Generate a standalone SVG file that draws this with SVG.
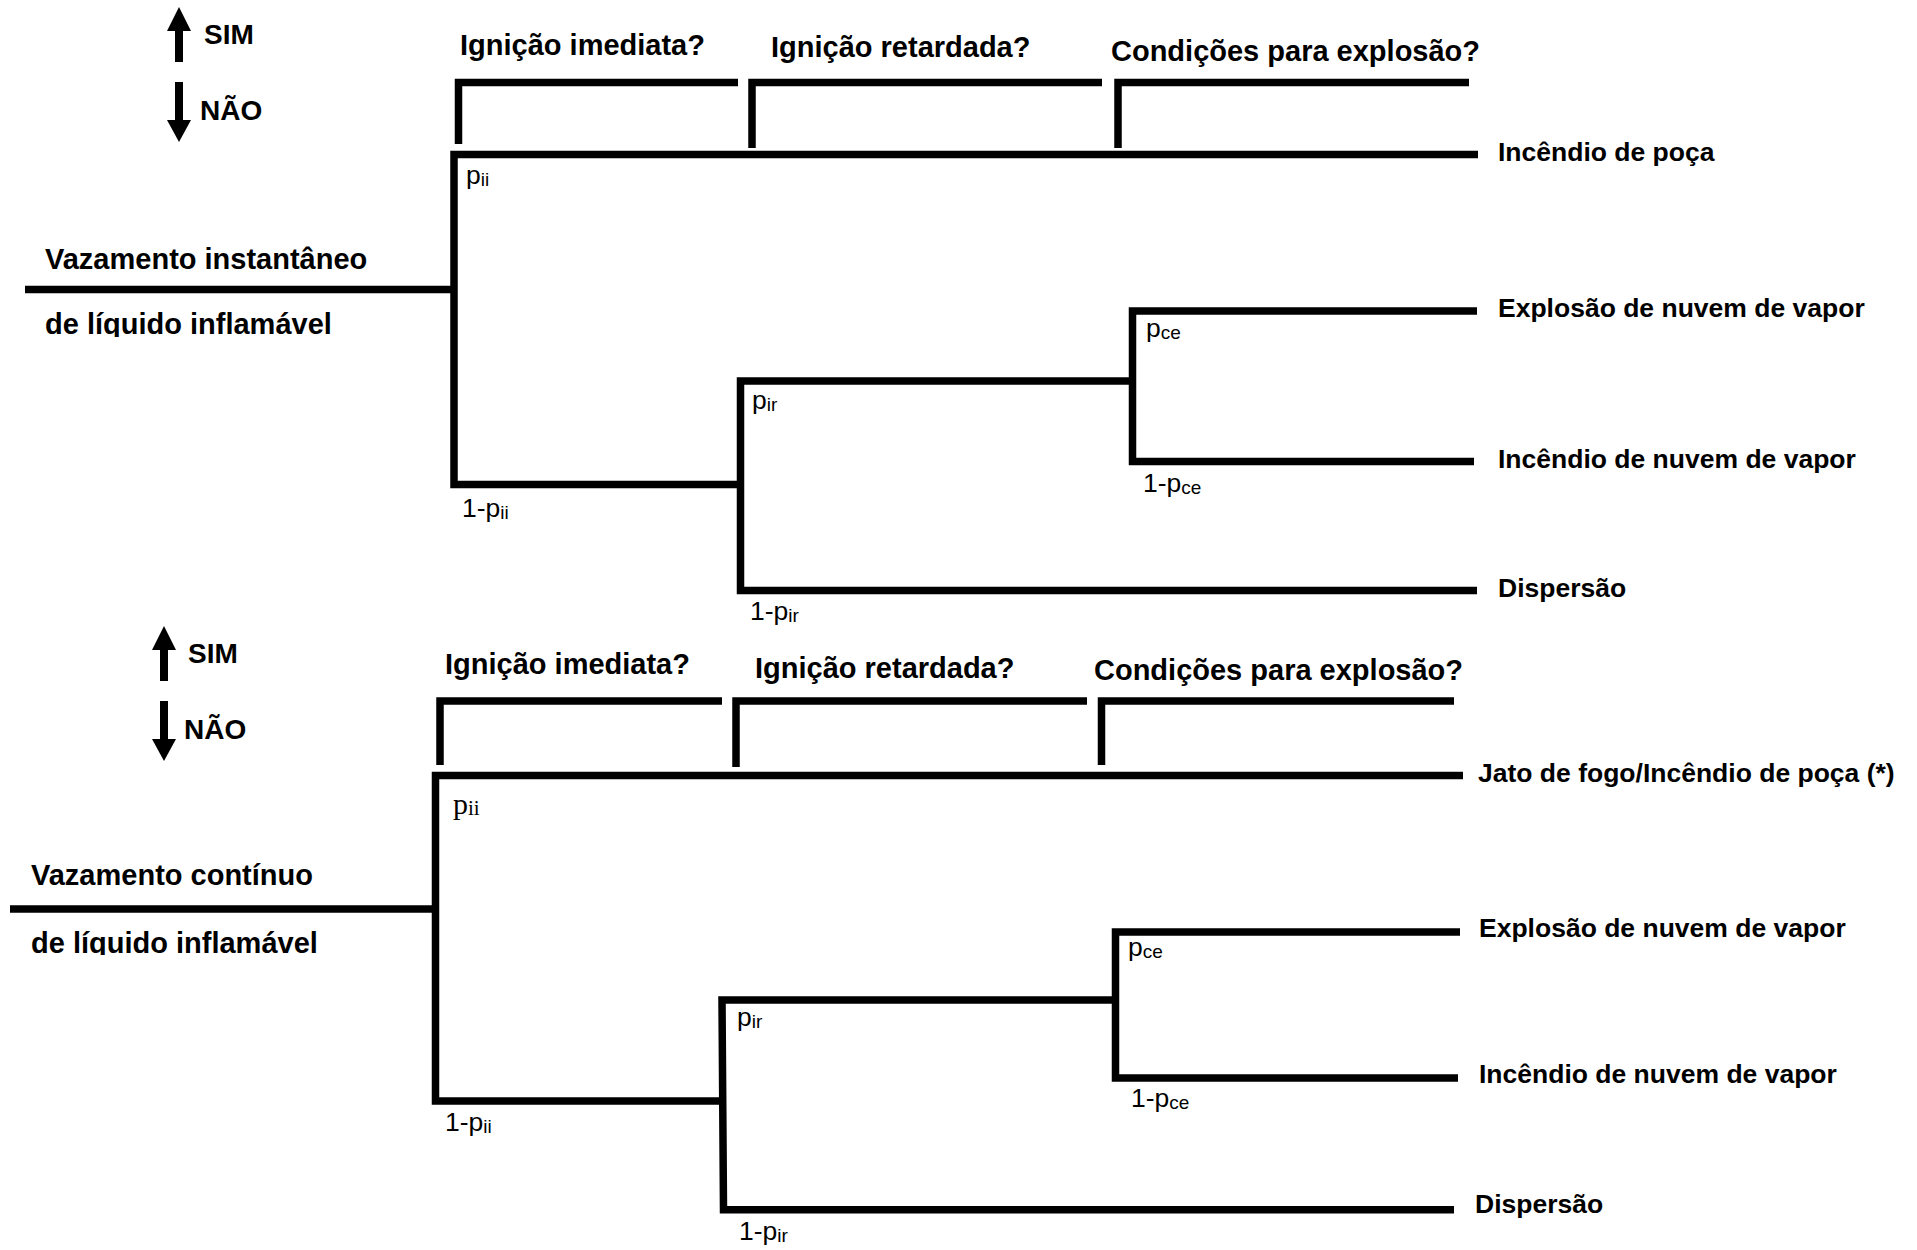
<svg xmlns="http://www.w3.org/2000/svg" xmlns:xlink="http://www.w3.org/1999/xlink" width="1917" height="1250" viewBox="0 0 1917 1250">
<style>
.ln{fill:none;stroke:#000;stroke-width:7.5;stroke-linejoin:miter;stroke-linecap:butt}
.h{font-family:"Liberation Sans",Arial,sans-serif;font-weight:bold;font-size:29px;fill:#000}
.yn{font-family:"Liberation Sans",Arial,sans-serif;font-weight:bold;font-size:28px;fill:#000}
.out{font-family:"Liberation Sans",Arial,sans-serif;font-weight:bold;font-size:26.5px;fill:#000}
.p{font-family:"Liberation Sans",Arial,sans-serif;font-size:26.5px;fill:#000}
.ps{font-family:"Liberation Serif","Times New Roman",serif;font-size:30px;fill:#000}
.sub{font-size:19px}
.subs{font-size:21px}
</style>
<defs>
<g id="arrUp"><rect x="-4" y="23" width="8" height="32"/><polygon points="-12,24 12,24 0,0"/></g>
<g id="arrDown"><rect x="-4" y="0" width="8" height="39"/><polygon points="-12,38 12,38 0,60"/></g>
<clipPath id="clipTop"><rect x="0" y="300" width="440" height="37"/></clipPath>
<clipPath id="clipBot"><rect x="0" y="918" width="430" height="37"/></clipPath>
</defs>
<rect width="1917" height="1250" fill="#fff"/>

<!-- ===== Top diagram ===== -->
<g id="legend-top">
<use xlink:href="#arrUp" x="179" y="7"/>
<use xlink:href="#arrDown" x="179" y="82"/>
<text class="yn" x="204" y="44">SIM</text>
<text class="yn" x="200" y="120">NÃO</text>
</g>
<g id="q1-top"><text class="h" x="460" y="55">Ignição imediata?</text></g>
<g id="q2-top"><text class="h" x="771" y="57">Ignição retardada?</text></g>
<g id="q3-top"><text class="h" x="1111" y="61">Condições para explosão?</text></g>
<g id="start-top">
<text class="h" x="45" y="269">Vazamento instantâneo</text>
<text class="h" x="45" y="334" clip-path="url(#clipTop)">de líquido inflamável</text>
</g>
<g id="out1-top"><text class="out" x="1498" y="161">Incêndio de poça</text></g>
<g id="out2-top"><text class="out" x="1498" y="317">Explosão de nuvem de vapor</text></g>
<g id="out3-top"><text class="out" x="1498" y="468">Incêndio de nuvem de vapor</text></g>
<g id="out4-top"><text class="out" x="1498" y="597">Dispersão</text></g>
<g id="probs-top">
<text class="p" x="466" y="184">p<tspan class="sub" dy="2">ii</tspan></text>
<text class="p" x="462" y="517">1-p<tspan class="sub" dy="2">ii</tspan></text>
<text class="p" x="752" y="409">p<tspan class="sub" dy="2">ir</tspan></text>
<text class="p" x="750" y="620">1-p<tspan class="sub" dy="2">ir</tspan></text>
<text class="p" x="1146" y="337">p<tspan class="sub" dy="2">ce</tspan></text>
<text class="p" x="1143" y="492">1-p<tspan class="sub" dy="2">ce</tspan></text>
</g>

<!-- ===== Bottom diagram ===== -->
<g id="legend-bottom">
<use xlink:href="#arrUp" x="164" y="626"/>
<use xlink:href="#arrDown" x="164" y="701"/>
<text class="yn" x="188" y="663">SIM</text>
<text class="yn" x="184" y="739">NÃO</text>
</g>
<g id="q1-bottom"><text class="h" x="445" y="674">Ignição imediata?</text></g>
<g id="q2-bottom"><text class="h" x="755" y="678">Ignição retardada?</text></g>
<g id="q3-bottom"><text class="h" x="1094" y="680">Condições para explosão?</text></g>
<g id="start-bottom">
<text class="h" x="31" y="885">Vazamento contínuo</text>
<text class="h" x="31" y="953" clip-path="url(#clipBot)">de líquido inflamável</text>
</g>
<g id="out1-bottom"><text class="out" x="1478" y="782">Jato de fogo/Incêndio de poça (*)</text></g>
<g id="out2-bottom"><text class="out" x="1479" y="937">Explosão de nuvem de vapor</text></g>
<g id="out3-bottom"><text class="out" x="1479" y="1083">Incêndio de nuvem de vapor</text></g>
<g id="out4-bottom"><text class="out" x="1475" y="1213">Dispersão</text></g>
<g id="probs-bottom">
<text class="ps" x="453" y="814">p<tspan class="subs" dy="1">ii</tspan></text>
<text class="p" x="445" y="1131">1-p<tspan class="sub" dy="2">ii</tspan></text>
<text class="p" x="737" y="1026">p<tspan class="sub" dy="2">ir</tspan></text>
<text class="p" x="739" y="1240">1-p<tspan class="sub" dy="2">ir</tspan></text>
<text class="p" x="1128" y="956">p<tspan class="sub" dy="2">ce</tspan></text>
<text class="p" x="1131" y="1107">1-p<tspan class="sub" dy="2">ce</tspan></text>
</g>

<g id="connectors">
<!-- top -->
<path class="ln" d="M458.5,144 V82.5 H738"/>
<path class="ln" d="M752,148 V82.5 H1102"/>
<path class="ln" d="M1118,148 V82.5 H1469"/>
<path class="ln" d="M25,289.5 H454"/>
<path class="ln" d="M1478,154.5 H454 V484.5 H740"/>
<path class="ln" d="M1132.5,381 H740.5 V590.5 H1477"/>
<path class="ln" d="M1477,311 H1132.5 V461.5 H1474"/>
<!-- bottom -->
<path class="ln" d="M440,765 V701 H722"/>
<path class="ln" d="M736,767 V701 H1087"/>
<path class="ln" d="M1101.5,765 V701 H1454"/>
<path class="ln" d="M10,909 H435.5"/>
<path class="ln" d="M1463,775.5 H435.5 V1101 H723"/>
<path class="ln" d="M1115.5,1000 H722 L723.5,1209.7 H1454"/>
<path class="ln" d="M1460,932 H1115.5 V1078 H1458"/>
</g>
</svg>
